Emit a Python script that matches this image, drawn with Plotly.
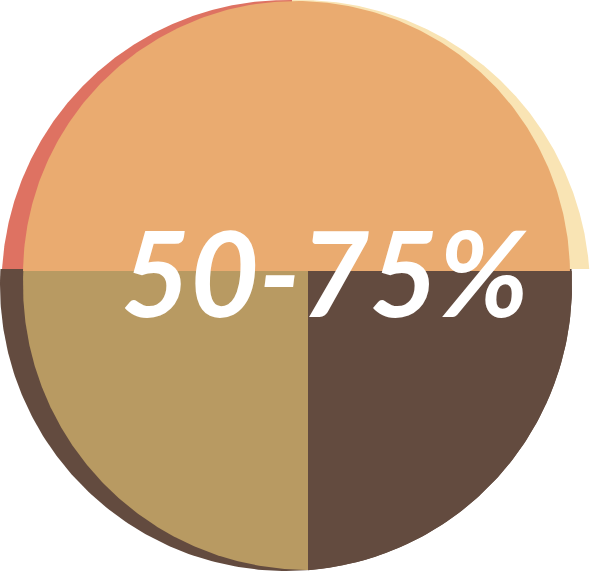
import numpy as np
import plotly.graph_objects as go

# ---------------- data ----------------
back_labels = ["Upper left", "Upper right", "Lower half"]
back_shares = [25, 25, 50]
front_labels = ["Upper half", "Lower right", "Lower left"]
front_shares = [50, 25, 25]
center_label = "50-75%"

# ---------------- style / geometry ----------------
W, H = 594, 573
back_colors = ["#DE7262", "#F9E4B4", "#634B3F"]
front_colors = ["#EAAB70", "#634B3F", "#B89A62"]

# pixel geometry (y measured downward), converted below
back_corner_px = (292, 269)
front_corner_px = (308, 271)
back_circles_px = [(287, 285.4, 285.4), (300, 290, 290), (286, 285, 286)]
front_circles_px = [(296.5, 274.5, 273.5), (286, 285, 286), (308, 285, 285)]


def to_up(p):
    return (p[0], H - p[1])


def circ_up(c):
    return (c[0], H - c[1], c[2])


def wedge(corner, circle, a0, a1, n=240):
    px, py = corner
    cx, cy, r = circle
    th = np.radians(np.linspace(a0, a1, n))
    ux, uy = np.cos(th), np.sin(th)
    dx, dy = px - cx, py - cy
    b = ux * dx + uy * dy
    c = dx * dx + dy * dy - r * r
    t = -b + np.sqrt(np.maximum(b * b - c, 0))
    xs = np.concatenate([[px], px + t * ux, [px]])
    ys = np.concatenate([[py], py + t * uy, [py]])
    return xs, ys


fig = go.Figure()


def add_ring(labels, shares, colors, corner_px, circles_px, start=180.0):
    total = float(sum(shares))
    ang = start
    for lab, s, col, cpx in zip(labels, shares, colors, circles_px):
        span = 360.0 * s / total
        xs, ys = wedge(to_up(corner_px), circ_up(cpx), ang, ang - span)
        ang -= span
        fig.add_trace(go.Scatter(
            x=xs, y=ys, mode="lines", fill="toself",
            fillcolor=col, line=dict(width=0, color=col),
            name=lab, hoverinfo="name", showlegend=False,
        ))


add_ring(back_labels, back_shares, back_colors, back_corner_px, back_circles_px)
add_ring(front_labels, front_shares, front_colors, front_corner_px, front_circles_px)

fig.add_annotation(
    x=325, y=H - 271, xref="x", yref="y",
    text=center_label, showarrow=False,
    xanchor="center", yanchor="middle",
    font=dict(family="Lato", size=119, color="white", weight="bold", style="italic"),
)

fig.update_layout(
    width=W, height=H,
    margin=dict(l=0, r=0, t=0, b=0),
    paper_bgcolor="white", plot_bgcolor="white",
    xaxis=dict(range=[0, W], visible=False, fixedrange=True),
    yaxis=dict(range=[0, H], visible=False, fixedrange=True),
    showlegend=False,
)

fig.write_html("out.html")
